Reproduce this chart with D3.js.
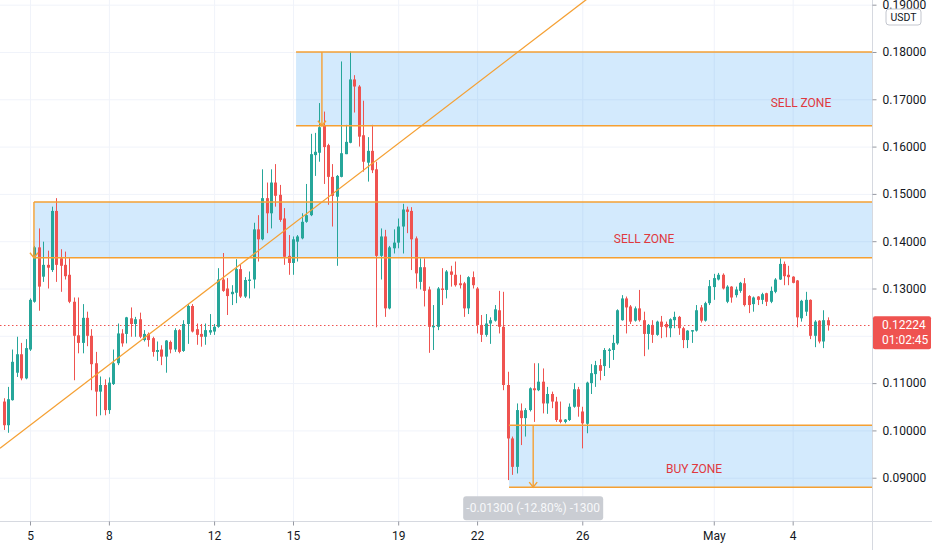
<!DOCTYPE html>
<html>
<head>
<meta charset="utf-8">
<script src="https://cdn.jsdelivr.net/npm/d3@7"></script>
<style>
    html, body { margin: 0; padding: 0; background: #ffffff; }
    body { font-family: Roboto, "Open Sans", "Liberation Sans", sans-serif; }
    svg { display: block; }
</style>
</head>
<body>
<svg id="chart" width="932" height="550"></svg>
<script>
// 4h bars, the first one opens 2021-04-04 00:00 UTC
const firstBar = "2021-04-04T00:00:00Z"
const barHours = 4

// [open, high, low, close], one row per day
const candles = [
    // Apr 4
    [0.1061, 0.1068, 0.1001, 0.1011], [0.1011, 0.1092, 0.0995, 0.1066], [0.1064, 0.1171, 0.1063, 0.1145],
    [0.1122, 0.1198, 0.1113, 0.1161], [0.1161, 0.1185, 0.1106, 0.1110], [0.1110, 0.1193, 0.1108, 0.1174],
    // Apr 5
    [0.1171, 0.1279, 0.1168, 0.1276], [0.1272, 0.1390, 0.1270, 0.1387], [0.1387, 0.1427, 0.1253, 0.1304],
    [0.1325, 0.1399, 0.1314, 0.1350], [0.1350, 0.1380, 0.1300, 0.1344], [0.1339, 0.1473, 0.1335, 0.1464],
    // Apr 6
    [0.1464, 0.1491, 0.1314, 0.1350], [0.1364, 0.1383, 0.1293, 0.1348], [0.1350, 0.1378, 0.1319, 0.1326],
    [0.1329, 0.1364, 0.1269, 0.1272], [0.1272, 0.1281, 0.1106, 0.1200], [0.1201, 0.1281, 0.1163, 0.1185],
    // Apr 7
    [0.1185, 0.1267, 0.1163, 0.1238], [0.1238, 0.1251, 0.1178, 0.1200], [0.1200, 0.1214, 0.1085, 0.1140],
    [0.1142, 0.1166, 0.1030, 0.1082], [0.1082, 0.1114, 0.1032, 0.1096], [0.1096, 0.1108, 0.1032, 0.1043],
    // Apr 8
    [0.1043, 0.1112, 0.1035, 0.1101], [0.1098, 0.1171, 0.1096, 0.1142], [0.1142, 0.1226, 0.1138, 0.1205],
    [0.1205, 0.1214, 0.1177, 0.1184], [0.1204, 0.1240, 0.1184, 0.1239], [0.1237, 0.1260, 0.1198, 0.1225],
    // Apr 9
    [0.1225, 0.1240, 0.1198, 0.1235], [0.1235, 0.1249, 0.1195, 0.1198], [0.1191, 0.1212, 0.1188, 0.1204],
    [0.1204, 0.1207, 0.1177, 0.1191], [0.1195, 0.1198, 0.1156, 0.1166], [0.1166, 0.1188, 0.1147, 0.1170],
    // Apr 10
    [0.1171, 0.1180, 0.1138, 0.1156], [0.1156, 0.1191, 0.1122, 0.1190], [0.1187, 0.1190, 0.1163, 0.1171],
    [0.1171, 0.1216, 0.1166, 0.1212], [0.1212, 0.1214, 0.1163, 0.1166], [0.1168, 0.1233, 0.1166, 0.1225],
    // Apr 11
    [0.1225, 0.1267, 0.1183, 0.1263], [0.1263, 0.1267, 0.1207, 0.1209], [0.1214, 0.1226, 0.1181, 0.1202],
    [0.1204, 0.1225, 0.1177, 0.1198], [0.1198, 0.1226, 0.1181, 0.1212], [0.1207, 0.1246, 0.1202, 0.1212],
    // Apr 12
    [0.1209, 0.1225, 0.1202, 0.1219], [0.1219, 0.1343, 0.1217, 0.1319], [0.1319, 0.1375, 0.1293, 0.1295],
    [0.1300, 0.1322, 0.1244, 0.1284], [0.1288, 0.1307, 0.1265, 0.1293], [0.1291, 0.1362, 0.1269, 0.1341],
    // Apr 13
    [0.1341, 0.1350, 0.1280, 0.1283], [0.1283, 0.1324, 0.1280, 0.1318], [0.1316, 0.1336, 0.1279, 0.1319],
    [0.1319, 0.1439, 0.1300, 0.1425], [0.1425, 0.1455, 0.1357, 0.1404], [0.1404, 0.1552, 0.1402, 0.1491],
    // Apr 14
    [0.1491, 0.1524, 0.1417, 0.1459], [0.1459, 0.1552, 0.1427, 0.1524], [0.1524, 0.1563, 0.1473, 0.1496],
    [0.1498, 0.1519, 0.1441, 0.1445], [0.1448, 0.1470, 0.1350, 0.1367], [0.1369, 0.1413, 0.1329, 0.1354],
    // Apr 15
    [0.1354, 0.1410, 0.1329, 0.1404], [0.1399, 0.1413, 0.1357, 0.1410], [0.1406, 0.1459, 0.1404, 0.1441],
    [0.1441, 0.1521, 0.1439, 0.1455], [0.1455, 0.1627, 0.1453, 0.1584], [0.1582, 0.1629, 0.1538, 0.1589],
    // Apr 16
    [0.1587, 0.1692, 0.1568, 0.1641], [0.1644, 0.1674, 0.1521, 0.1599], [0.1603, 0.1606, 0.1477, 0.1536],
    [0.1536, 0.1563, 0.1431, 0.1496], [0.1494, 0.1540, 0.1348, 0.1538], [0.1536, 0.1780, 0.1535, 0.1586],
    // Apr 17
    [0.1584, 0.1646, 0.1584, 0.1610], [0.1608, 0.1801, 0.1607, 0.1742], [0.1742, 0.1751, 0.1672, 0.1727],
    [0.1727, 0.1730, 0.1600, 0.1621], [0.1624, 0.1697, 0.1547, 0.1568], [0.1566, 0.1620, 0.1526, 0.1591],
    // Apr 18
    [0.1591, 0.1646, 0.1544, 0.1550], [0.1552, 0.1568, 0.1218, 0.1369], [0.1369, 0.1427, 0.1319, 0.1410],
    [0.1410, 0.1424, 0.1240, 0.1258], [0.1258, 0.1390, 0.1256, 0.1387], [0.1385, 0.1425, 0.1374, 0.1397],
    // Apr 19
    [0.1397, 0.1448, 0.1385, 0.1431], [0.1431, 0.1479, 0.1374, 0.1467], [0.1467, 0.1473, 0.1417, 0.1462],
    [0.1464, 0.1472, 0.1339, 0.1404], [0.1406, 0.1410, 0.1300, 0.1332], [0.1314, 0.1364, 0.1298, 0.1345],
    // Apr 20
    [0.1345, 0.1364, 0.1262, 0.1295], [0.1298, 0.1304, 0.1164, 0.1219], [0.1218, 0.1265, 0.1170, 0.1221],
    [0.1219, 0.1303, 0.1212, 0.1300], [0.1300, 0.1343, 0.1265, 0.1297], [0.1297, 0.1339, 0.1279, 0.1336],
    // Apr 21
    [0.1336, 0.1348, 0.1304, 0.1329], [0.1329, 0.1357, 0.1304, 0.1307], [0.1311, 0.1329, 0.1300, 0.1307],
    [0.1311, 0.1314, 0.1240, 0.1258], [0.1258, 0.1326, 0.1246, 0.1324], [0.1324, 0.1336, 0.1300, 0.1307],
    // Apr 22
    [0.1300, 0.1303, 0.1205, 0.1223], [0.1223, 0.1244, 0.1187, 0.1202], [0.1202, 0.1246, 0.1198, 0.1226],
    [0.1226, 0.1239, 0.1183, 0.1233], [0.1232, 0.1265, 0.1230, 0.1256], [0.1254, 0.1295, 0.1205, 0.1219],
    // Apr 23
    [0.1219, 0.1293, 0.1085, 0.1096], [0.1096, 0.1124, 0.0895, 0.0983], [0.0983, 0.0987, 0.0906, 0.0923],
    [0.0923, 0.1057, 0.0909, 0.1043], [0.1042, 0.1057, 0.0969, 0.1026], [0.1026, 0.1047, 0.0987, 0.1043],
    // Apr 24
    [0.1043, 0.1091, 0.1040, 0.1089], [0.1089, 0.1142, 0.1018, 0.1085], [0.1085, 0.1142, 0.1083, 0.1103],
    [0.1103, 0.1131, 0.1036, 0.1057], [0.1057, 0.1092, 0.1035, 0.1077], [0.1077, 0.1082, 0.1047, 0.1061],
    // Apr 25
    [0.1061, 0.1071, 0.1018, 0.1022], [0.1023, 0.1061, 0.1015, 0.1018], [0.1018, 0.1024, 0.1015, 0.1023],
    [0.1022, 0.1057, 0.1020, 0.1050], [0.1050, 0.1100, 0.1048, 0.1087], [0.1087, 0.1092, 0.1029, 0.1050],
    // Apr 26
    [0.1040, 0.1050, 0.0962, 0.1015], [0.1014, 0.1103, 0.0994, 0.1101], [0.1100, 0.1140, 0.1077, 0.1121],
    [0.1119, 0.1147, 0.1092, 0.1138], [0.1138, 0.1151, 0.1106, 0.1126], [0.1136, 0.1174, 0.1115, 0.1170],
    // Apr 27
    [0.1168, 0.1174, 0.1132, 0.1171], [0.1170, 0.1202, 0.1149, 0.1185], [0.1184, 0.1256, 0.1181, 0.1254],
    [0.1233, 0.1286, 0.1232, 0.1279], [0.1279, 0.1283, 0.1205, 0.1260], [0.1262, 0.1265, 0.1225, 0.1230],
    // Apr 28
    [0.1232, 0.1262, 0.1230, 0.1258], [0.1258, 0.1297, 0.1230, 0.1233], [0.1233, 0.1251, 0.1157, 0.1204],
    [0.1204, 0.1225, 0.1171, 0.1223], [0.1223, 0.1233, 0.1185, 0.1202], [0.1202, 0.1232, 0.1200, 0.1230],
    // Apr 29
    [0.1230, 0.1242, 0.1195, 0.1219], [0.1225, 0.1230, 0.1197, 0.1218], [0.1216, 0.1237, 0.1197, 0.1235],
    [0.1233, 0.1251, 0.1216, 0.1240], [0.1240, 0.1242, 0.1202, 0.1216], [0.1216, 0.1219, 0.1174, 0.1191],
    // Apr 30
    [0.1191, 0.1212, 0.1174, 0.1211], [0.1209, 0.1212, 0.1185, 0.1212], [0.1211, 0.1265, 0.1209, 0.1254],
    [0.1260, 0.1265, 0.1228, 0.1232], [0.1232, 0.1272, 0.1230, 0.1269], [0.1269, 0.1318, 0.1265, 0.1305],
    // May 1
    [0.1303, 0.1331, 0.1276, 0.1322], [0.1319, 0.1333, 0.1317, 0.1329], [0.1329, 0.1332, 0.1298, 0.1300],
    [0.1272, 0.1307, 0.1269, 0.1304], [0.1304, 0.1305, 0.1270, 0.1281], [0.1286, 0.1304, 0.1281, 0.1298],
    // May 2
    [0.1295, 0.1314, 0.1291, 0.1312], [0.1311, 0.1322, 0.1262, 0.1265], [0.1284, 0.1286, 0.1248, 0.1265],
    [0.1267, 0.1283, 0.1251, 0.1281], [0.1283, 0.1284, 0.1265, 0.1276], [0.1276, 0.1291, 0.1267, 0.1288],
    // May 3
    [0.1290, 0.1291, 0.1263, 0.1272], [0.1272, 0.1304, 0.1269, 0.1295], [0.1293, 0.1322, 0.1290, 0.1319],
    [0.1319, 0.1364, 0.1318, 0.1352], [0.1352, 0.1357, 0.1307, 0.1326], [0.1329, 0.1348, 0.1307, 0.1324],
    // May 4
    [0.1325, 0.1326, 0.1311, 0.1312], [0.1317, 0.1318, 0.1218, 0.1239], [0.1237, 0.1276, 0.1230, 0.1274],
    [0.1251, 0.1293, 0.1242, 0.1276], [0.1276, 0.1277, 0.1193, 0.1200], [0.1200, 0.1233, 0.1176, 0.1230],
    // May 5
    [0.1232, 0.1233, 0.1184, 0.1188], [0.1188, 0.1254, 0.1174, 0.1233], [0.1233, 0.1239, 0.1211, 0.12224]
]

const priceTicks = [0.09, 0.10, 0.11, 0.12, 0.13, 0.14, 0.15, 0.16, 0.17, 0.18, 0.19]
const timeTicks = ["2021-04-05", "2021-04-08", "2021-04-12", "2021-04-15", "2021-04-19",
                   "2021-04-22", "2021-04-26", "2021-05-01", "2021-05-04"]
const timeTickLabels = ["5", "8", "12", "15", "19", "22", "26", "May", "4"]

// price range zones drawn on the chart
const zoneNames = ["SELL ZONE", "SELL ZONE", "BUY ZONE"]
const zoneStarts = ["2021-04-15T02:48:00Z", "2021-04-05T03:36:00Z", "2021-04-23T05:12:00Z"]
const zoneTops = [0.1800, 0.1483, 0.1011]
const zoneBottoms = [0.1644, 0.1365, 0.0880]
const zoneArrowTimes = ["2021-04-16T02:24:00Z", "2021-04-05T03:36:00Z", "2021-04-24T03:12:00Z"]
const zoneLabelTimes = ["2021-05-04T07:36:00Z", "2021-04-28T08:24:00Z", "2021-04-30T06:00:00Z"]
const zoneLabelPrices = [0.1692, 0.1405, 0.0918]
const rangeLabel = "-0.01300 (-12.80%) -1300"

// trend line anchors
const trendTimes = ["2021-04-04T07:18:00Z", "2021-04-20T14:10:00Z"]
const trendPrices = [0.0981, 0.1674]

const lastPrice = 0.12224
const countdown = "01:02:45"
const currency = "USDT"

// -----------------------------------------------------------------------------------
// SETUP
const width = 932
const height = 550
const plotW = 872
const plotH = 521

const upColor = "#26a69a"
const downColor = "#ef5350"
const orange = "#f5a033"
const gridColor = "#f0f3fa"
const axisLine = "#d6d9e0"
const textColor = "#131722"

const t0 = new Date(firstBar)
const barTime = i => new Date(t0.getTime() + i * barHours * 3600e3)

const x = d3.scaleUtc()
    .domain([barTime(-0.845), barTime(198.1)])
    .range([0, plotW])

const y = d3.scaleLinear()
    .domain([0.08085, 0.19099])
    .range([plotH, 0])

const svg = d3.select("#chart")

svg.append("rect")
    .attr("width", width)
    .attr("height", height)
    .attr("fill", "#ffffff")

svg.append("defs").append("clipPath")
    .attr("id", "plot-clip")
    .append("rect")
        .attr("width", plotW)
        .attr("height", plotH)

const plot = svg.append("g")
    .attr("clip-path", "url(#plot-clip)")

// grid
plot.append("g")
    .attr("class", "grid-y")
    .call(d3.axisLeft(y).tickValues(priceTicks).tickSize(-plotW).tickFormat(""))
    .call(g => g.select(".domain").remove())
    .call(g => g.selectAll("line").attr("stroke", gridColor))

plot.append("g")
    .attr("class", "grid-x")
    .attr("transform", `translate(0,${plotH})`)
    .call(d3.axisBottom(x).tickValues(timeTicks.map(d => new Date(d + "T00:00:00Z"))).tickSize(-plotH).tickFormat(""))
    .call(g => g.select(".domain").remove())
    .call(g => g.selectAll("line").attr("stroke", gridColor))

// zone fills
const zones = zoneNames.map((name, i) => ({
    name: name,
    start: new Date(zoneStarts[i]),
    top: zoneTops[i],
    bottom: zoneBottoms[i],
    arrow: new Date(zoneArrowTimes[i]),
    labelTime: new Date(zoneLabelTimes[i]),
    labelPrice: zoneLabelPrices[i]
}))

plot.append("g")
    .attr("class", "zone-fills")
    .selectAll("rect")
    .data(zones)
    .enter()
    .append("rect")
        .attr("x", d => x(d.start))
        .attr("y", d => y(d.top))
        .attr("width", d => plotW - x(d.start))
        .attr("height", d => y(d.bottom) - y(d.top))
        .attr("fill", "rgba(33, 150, 243, 0.2)")

// current price line
plot.append("line")
    .attr("x1", 0)
    .attr("x2", plotW)
    .attr("y1", Math.round(y(lastPrice)) + 0.5)
    .attr("y2", Math.round(y(lastPrice)) + 0.5)
    .attr("stroke", downColor)
    .attr("stroke-width", 1)
    .attr("stroke-dasharray", "1.5 2.5")

// candles
const bars = candles.map((d, i) => ({ t: barTime(i), o: d[0], h: d[1], l: d[2], c: d[3] }))

const candleG = plot.append("g").attr("class", "candles")

candleG.selectAll("line")
    .data(bars)
    .enter()
    .append("line")
        .attr("x1", d => Math.round(x(d.t)) + 0.5)
        .attr("x2", d => Math.round(x(d.t)) + 0.5)
        .attr("y1", d => y(d.h))
        .attr("y2", d => y(d.l))
        .attr("stroke", d => d.c >= d.o ? upColor : downColor)
        .attr("stroke-width", 1)

candleG.selectAll("rect")
    .data(bars)
    .enter()
    .append("rect")
        .attr("x", d => Math.round(x(d.t)) - 1)
        .attr("y", d => y(Math.max(d.o, d.c)))
        .attr("width", 3)
        .attr("height", d => Math.max(1, Math.abs(y(d.o) - y(d.c))))
        .attr("fill", d => d.c >= d.o ? upColor : downColor)

// zone borders and arrows
const zoneLines = plot.append("g").attr("class", "zone-lines")

zones.forEach(d => {
    [d.top, d.bottom].forEach(p => {
        zoneLines.append("line")
            .attr("x1", x(d.start))
            .attr("x2", plotW)
            .attr("y1", y(p))
            .attr("y2", y(p))
            .attr("stroke", orange)
            .attr("stroke-width", 1.6)
    })
    const ax = x(d.arrow)
    const ay = y(d.bottom)
    zoneLines.append("line")
        .attr("x1", ax)
        .attr("x2", ax)
        .attr("y1", y(d.top))
        .attr("y2", ay)
        .attr("stroke", orange)
        .attr("stroke-width", 1.4)
    zoneLines.append("path")
        .attr("d", `M${ax - 4},${ay - 5}L${ax},${ay}L${ax + 4},${ay - 5}`)
        .attr("fill", "none")
        .attr("stroke", orange)
        .attr("stroke-width", 1.4)
})

// trend line, extended over the whole plot
const trendA = [x(new Date(trendTimes[0])), y(trendPrices[0])]
const trendB = [x(new Date(trendTimes[1])), y(trendPrices[1])]
const slope = (trendB[1] - trendA[1]) / (trendB[0] - trendA[0])
plot.append("line")
    .attr("x1", 0)
    .attr("y1", trendA[1] - slope * trendA[0])
    .attr("x2", plotW)
    .attr("y2", trendA[1] + slope * (plotW - trendA[0]))
    .attr("stroke", orange)
    .attr("stroke-width", 1.3)

// zone labels
plot.append("g")
    .attr("class", "zone-labels")
    .selectAll("text")
    .data(zones)
    .enter()
    .append("text")
        .attr("x", d => x(d.labelTime))
        .attr("y", d => y(d.labelPrice))
        .attr("dy", "0.35em")
        .attr("text-anchor", "middle")
        .attr("font-size", "12px")
        .attr("fill", "#e0393e")
        .text(d => d.name)

// range measurement label under the buy zone
const buy = zones[2]
const rangeG = svg.append("g")
    .attr("transform", `translate(${x(buy.arrow)},${y(buy.bottom) + 20})`)
rangeG.append("rect")
    .attr("x", -70)
    .attr("y", -11)
    .attr("width", 140)
    .attr("height", 24)
    .attr("rx", 3)
    .attr("fill", "#cacdd3")
rangeG.append("text")
    .attr("text-anchor", "middle")
    .attr("dy", "0.35em")
    .attr("y", 1)
    .attr("font-size", "12px")
    .attr("fill", "#f7f8fa")
    .text(rangeLabel)

// -----------------------------------------------------------------------------------
// AXES
svg.append("line")
    .attr("x1", plotW + 0.5)
    .attr("x2", plotW + 0.5)
    .attr("y1", 0)
    .attr("y2", height)
    .attr("stroke", axisLine)

svg.append("line")
    .attr("x1", 0)
    .attr("x2", width)
    .attr("y1", plotH + 0.5)
    .attr("y2", plotH + 0.5)
    .attr("stroke", axisLine)

// the last price badge hides the tick label it sits on
const badgeY = y(lastPrice)
const labelTicks = priceTicks.filter(p => Math.abs(y(p) - (badgeY + 7)) > 22)

svg.append("g")
    .attr("class", "y-axis")
    .attr("transform", `translate(${plotW + 0.5},0)`)
    .call(d3.axisRight(y).tickValues(labelTicks).tickSize(4).tickPadding(6).tickFormat(d3.format(".5f")))
    .call(g => g.select(".domain").remove())
    .call(g => g.selectAll("line").attr("stroke", "#9598a1"))
    .call(g => g.selectAll("text")
        .attr("font-family", "Roboto, sans-serif")
        .attr("font-size", "12px")
        .attr("fill", textColor))

svg.append("g")
    .attr("class", "x-axis")
    .attr("transform", `translate(0,${plotH + 0.5})`)
    .call(d3.axisBottom(x)
        .tickValues(timeTicks.map(d => new Date(d + "T00:00:00Z")))
        .tickSize(4)
        .tickPadding(6)
        .tickFormat((d, i) => timeTickLabels[i]))
    .call(g => g.select(".domain").remove())
    .call(g => g.selectAll("line").attr("stroke", "#9598a1"))
    .call(g => g.selectAll("text")
        .attr("font-family", "Roboto, sans-serif")
        .attr("font-size", "12px")
        .attr("fill", textColor))

// last price badge
const badge = svg.append("g")
    .attr("transform", `translate(${plotW + 1},${badgeY})`)
badge.append("rect")
    .attr("x", 0)
    .attr("y", -9)
    .attr("width", 58)
    .attr("height", 33)
    .attr("rx", 2)
    .attr("fill", downColor)
badge.append("text")
    .attr("x", 9)
    .attr("dy", "0.35em")
    .attr("font-size", "12px")
    .attr("fill", "#ffffff")
    .text(d3.format(".5f")(lastPrice))
badge.append("text")
    .attr("x", 9)
    .attr("y", 15)
    .attr("dy", "0.35em")
    .attr("font-size", "12px")
    .attr("fill", "#ffffff")
    .text(countdown)

// currency tag
const tag = svg.append("g").attr("transform", "translate(886,9)")
tag.append("rect")
    .attr("width", 35)
    .attr("height", 16)
    .attr("rx", 3)
    .attr("fill", "#ffffff")
    .attr("stroke", "#c3c6ce")
tag.append("text")
    .attr("x", 17.5)
    .attr("y", 8)
    .attr("dy", "0.35em")
    .attr("text-anchor", "middle")
    .attr("font-size", "10.5px")
    .attr("fill", textColor)
    .text(currency)
</script>
</body>
</html>
